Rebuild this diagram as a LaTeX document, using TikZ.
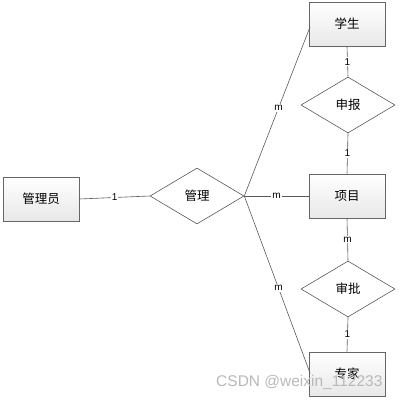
\documentclass[tikz,border=0pt]{standalone}
\usepackage{fontspec}
\setmainfont{Liberation Sans}
\newfontfamily\cjk{Noto Sans CJK SC}
\usetikzlibrary{shapes.geometric,shadows}
\begin{document}
\begin{tikzpicture}[x=1pt,y=-1pt,
  ent/.style={draw=gray!80!black, line width=0.9pt, top color=white, bottom color=gray!18, minimum width=76pt, minimum height=44pt, font=\cjk\fontsize{12.5}{14}\selectfont, drop shadow={shadow xshift=1pt,shadow yshift=-1pt,opacity=0.25}},
  rel/.style={diamond, aspect=1.7, draw=gray!70!black, line width=0.6pt, fill=white, inner sep=0pt, minimum width=94pt, minimum height=56pt, font=\cjk\fontsize{12.5}{14}\selectfont},
  conn/.style={draw=gray!70!black, line width=0.6pt},
  card/.style={fill=white, inner sep=1pt, font=\fontsize{10}{11}\selectfont}]
\useasboundingbox (0,0) rectangle (401,401);
\node[ent] (admin) at (41,199) {管理员};
\node[ent] (stu) at (347,24) {学生};
\node[ent] (proj) at (347,196) {项目};
\node[ent] (exp) at (347,374) {专家};
\node[rel] (mgr) at (197,196) {管理};
\node[rel] (rep) at (348,105) {申报};
\node[rel] (app) at (348,289) {审批};
\coordinate (s1) at (310,27);
\coordinate (e1) at (310,373);
\draw[conn] (admin.east) -- node[card] {1} (mgr.west);
\draw[conn] (mgr.east) -- node[card,pos=0.52] {m} (s1);
\draw[conn] (mgr.east) -- node[card,pos=0.5] {m} (proj.west);
\draw[conn] (mgr.east) -- node[card,pos=0.52] {m} (e1);
\draw[conn] (stu.south) -- node[card] {1} (rep.north);
\draw[conn] (rep.south) -- node[card] {1} (proj.north);
\draw[conn] (proj.south) -- node[card] {m} (app.north);
\draw[conn] (app.south) -- node[card] {1} (exp.north);
\node[text=gray!55, font=\fontsize{15.5}{17}\selectfont, anchor=east] (wm) at (386,382) {CSDN @weixin\_112233};
\end{tikzpicture}
\end{document}
